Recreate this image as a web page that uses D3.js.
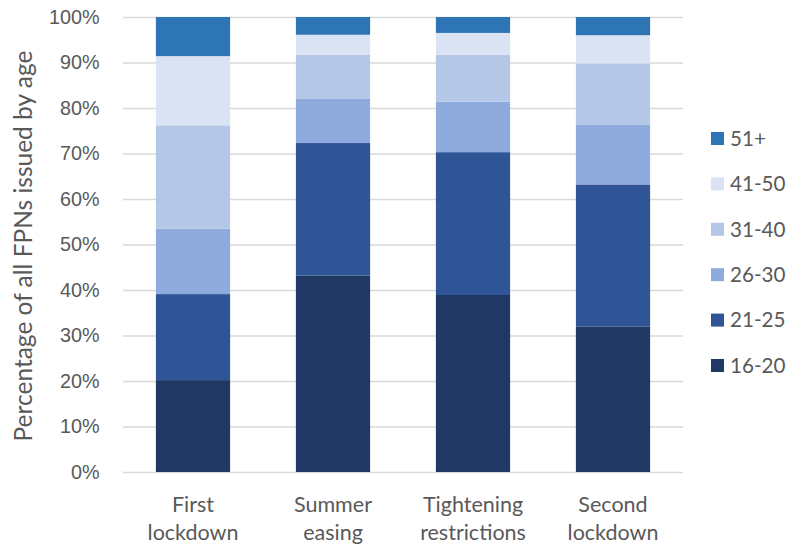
<!DOCTYPE html>
<html>
<head>
<meta charset="utf-8">
<script src="https://cdn.jsdelivr.net/npm/d3@7"></script>
<style>
  html, body { margin: 0; padding: 0; background: #fff; }
  svg { display: block; font-family: Lato, "Open Sans", sans-serif; }
</style>
</head>
<body>
<svg id="chart" width="789" height="546"></svg>
<script>
// Periods on the x axis (each label split over two lines)
const periods = ["First lockdown", "Summer easing", "Tightening restrictions", "Second lockdown"];
const periodLines = [["First", "lockdown"], ["Summer", "easing"], ["Tightening", "restrictions"], ["Second", "lockdown"]];

// Age bands, bottom of the stack first
const ageBands = ["16-20", "21-25", "26-30", "31-40", "41-50", "51+"];

// Share of FPNs (%) per age band, one value per period
const share_16_20 = [20.2, 43.2, 38.9, 32.0];
const share_21_25 = [18.9, 29.1, 31.4, 31.2];
const share_26_30 = [14.4, 9.7, 11.1, 13.2];
const share_31_40 = [22.7, 9.7, 10.3, 13.4];
const share_41_50 = [15.2, 4.4, 4.8, 6.2];
const share_51plus = [8.6, 3.9, 3.5, 4.0];

const yTicks = [0, 10, 20, 30, 40, 50, 60, 70, 80, 90, 100];
const bandColors = ["#203864", "#2F5597", "#8FAADC", "#B4C7E7", "#DAE3F3", "#2E75B6"];

const seriesValues = [share_16_20, share_21_25, share_26_30, share_31_40, share_41_50, share_51plus];
const rows = periods.map((p, i) => {
  const r = { period: p };
  ageBands.forEach((b, j) => { r[b] = seriesValues[j][i]; });
  return r;
});

const svg = d3.select("#chart");
const margin = { left: 123, right: 106, top: 17, bottom: 74 };
const W = 789, H = 546;

const x = d3.scaleBand().domain(periods)
  .range([margin.left, W - margin.right])
  .paddingInner(0.47).paddingOuter(0.235);
const y = d3.scaleLinear().domain([0, 100]).range([H - margin.bottom, margin.top]);
const color = d3.scaleOrdinal().domain(ageBands).range(bandColors);

// Horizontal gridlines and percentage labels
const yAxis = d3.axisLeft(y).tickValues(yTicks)
  .tickSize(-(W - margin.right - margin.left))
  .tickFormat(d => d + "%");
const gy = svg.append("g").attr("transform", `translate(${margin.left},0)`).call(yAxis);
gy.select(".domain").remove();
gy.selectAll(".tick line").attr("stroke", "#d9d9d9").attr("stroke-width", 1.3);
gy.selectAll(".tick text").attr("x", -23.5).attr("fill", "#595959")
  .style("font-size", "19.8px");

// Stacked bars
const stacked = d3.stack().keys(ageBands)(rows);
svg.append("g").selectAll("g").data(stacked).join("g")
  .attr("fill", d => color(d.key))
  .selectAll("rect").data(d => d).join("rect")
  .attr("x", d => x(d.data.period))
  .attr("width", x.bandwidth())
  .attr("y", d => y(d[1]))
  .attr("height", d => y(d[0]) - y(d[1]));

// Category labels (two lines each)
const gx = svg.append("g");
periods.forEach((p, i) => {
  const t = gx.append("text")
    .attr("x", x(p) + x.bandwidth() / 2)
    .attr("y", 511.5)
    .attr("text-anchor", "middle")
    .attr("fill", "#595959")
    .style("font-size", "21.5px");
  periodLines[i].forEach((line, k) => {
    t.append("tspan").attr("x", x(p) + x.bandwidth() / 2).attr("dy", k === 0 ? 0 : 28.5).text(line);
  });
});

// Y-axis title
svg.append("text")
  .attr("transform", `translate(32,246) rotate(-90)`)
  .attr("text-anchor", "middle")
  .attr("fill", "#595959")
  .style("font-size", "24.5px")
  .text("Percentage of all FPNs issued by age");

// Legend, top entry is the top of the stack
const legendOrder = ageBands.slice().reverse();
const lg = svg.append("g");
legendOrder.forEach((b, i) => {
  const cy = 138.5 + i * 45.4;
  lg.append("rect").attr("x", 711).attr("y", cy - 6.5).attr("width", 13).attr("height", 13)
    .attr("fill", color(b));
  lg.append("text").attr("x", 730).attr("y", cy).attr("dy", "0.35em")
    .attr("fill", "#595959").style("font-size", "20.6px").text(b);
});
</script>
</body>
</html>
